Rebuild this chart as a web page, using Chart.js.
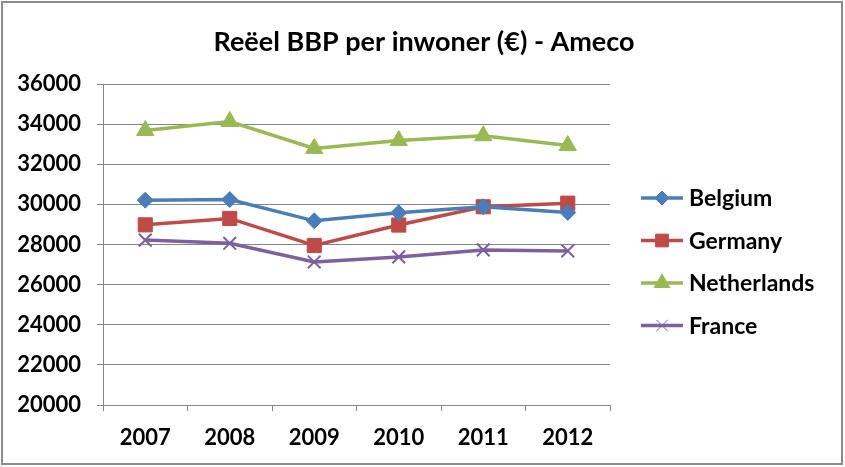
<!DOCTYPE html>
<html>
<head>
<meta charset="utf-8">
<script src="https://cdn.jsdelivr.net/npm/chart.js@4/dist/chart.umd.min.js"></script>
<style>
  html, body { margin: 0; padding: 0; background: #fff; }
  #wrap { width: 845px; height: 467px; }
</style>
</head>
<body>
<div id="wrap"><canvas id="lineChart" width="845" height="467"></canvas></div>
<script>
// chart data
const years = ['2007', '2008', '2009', '2010', '2011', '2012'];
const belgium = [30210, 30240, 29180, 29580, 29880, 29600];
const germany = [28980, 29300, 27950, 28970, 29880, 30060];
const netherlands = [33680, 34130, 32790, 33180, 33420, 32930];
const france = [28220, 28060, 27130, 27380, 27730, 27680];
const yTicks = [20000, 22000, 24000, 26000, 28000, 30000, 32000, 34000, 36000];

const chartTitle = 'Reëel BBP per inwoner (€) - Ameco';
const fontFamily = 'Lato, "Open Sans", sans-serif';
const gridColor = '#868686';

// series styling (Excel 2007 default palette)
const seriesList = [
    { label: 'Belgium', data: belgium, color: '#4A7EBB', marker: 'rectRot', radius: 8 },
    { label: 'Germany', data: germany, color: '#BE4B48', marker: 'rect', radius: 10 },
    { label: 'Netherlands', data: netherlands, color: '#98B954', marker: 'triangle', radius: 10 },
    { label: 'France', data: france, color: '#7D60A0', marker: 'crossRot', radius: 9 }
];

/**
 * Draws white background, outer frame, title and the Excel-like legend
 */
const framePlugin = {
    id: 'frame',
    beforeDraw(chart) {
        const ctx = chart.ctx;
        ctx.save();
        ctx.fillStyle = '#fff';
        ctx.fillRect(0, 0, chart.width, chart.height);
        ctx.strokeStyle = '#8c8c8c';
        ctx.lineWidth = 2;
        ctx.strokeRect(2, 2, chart.width - 5, chart.height - 5);
        ctx.restore();
    },
    afterDraw(chart) {
        const ctx = chart.ctx;
        ctx.save();
        // title
        ctx.fillStyle = '#000';
        ctx.font = 'bold 27px ' + fontFamily;
        ctx.textAlign = 'center';
        ctx.textBaseline = 'middle';
        ctx.fillText(chartTitle, 424, 42);

        // legend: line + marker + label
        ctx.textAlign = 'left';
        ctx.font = 'bold 23px ' + fontFamily;
        chart.data.datasets.forEach((ds, i) => {
            const y = 198 + i * 42.5;
            ctx.strokeStyle = ds.borderColor;
            ctx.lineWidth = 3.5;
            ctx.beginPath();
            ctx.moveTo(641, y);
            ctx.lineTo(683, y);
            ctx.stroke();
            ctx.fillStyle = ds.borderColor;
            ctx.strokeStyle = ds.borderColor;
            ctx.lineWidth = 1;
            Chart.helpers.drawPoint(ctx, {
                pointStyle: ds.pointStyle,
                radius: ds.pointRadius - 1,
                borderWidth: 1
            }, 662, y);
            ctx.fillStyle = '#000';
            ctx.fillText(ds.label, 689, y + 1);
        });
        ctx.restore();
    }
};

function buildDatasets() {
    return seriesList.map(s => ({
        label: s.label,
        data: s.data,
        borderColor: s.color,
        backgroundColor: s.color,
        borderWidth: 3.5,
        tension: 0,
        pointStyle: s.marker,
        pointRadius: s.radius,
        pointHoverRadius: s.radius,
        pointBackgroundColor: s.color,
        pointBorderColor: s.color,
        pointBorderWidth: s.marker === 'crossRot' ? 2 : 1
    }));
}

const ctx = document.getElementById('lineChart');
new Chart(ctx, {
    type: 'line',
    data: {
        labels: years,
        datasets: buildDatasets()
    },
    options: {
        responsive: false,
        animation: false,
        events: [],
        layout: {
            padding: { left: 0, right: 235, top: 84, bottom: 0 }
        },
        plugins: {
            legend: { display: false },
            title: { display: false },
            tooltip: { enabled: false }
        },
        scales: {
            x: {
                offset: true,
                grid: {
                    offset: true,
                    drawOnChartArea: false,
                    drawTicks: true,
                    tickLength: 6,
                    color: gridColor
                },
                border: { display: true, color: gridColor, width: 1 },
                ticks: {
                    color: '#000',
                    padding: 14,
                    font: { family: fontFamily, size: 22, weight: 'bold' }
                },
                afterFit(scale) { scale.height = 62; }
            },
            y: {
                min: yTicks[0],
                max: yTicks[yTicks.length - 1],
                afterBuildTicks(scale) {
                    scale.ticks = yTicks.map(v => ({ value: v }));
                },
                grid: {
                    color: gridColor,
                    drawTicks: true,
                    tickLength: 6
                },
                border: { display: true, color: gridColor, width: 1 },
                ticks: {
                    color: '#000',
                    padding: 16,
                    font: { family: fontFamily, size: 22, weight: 'bold' },
                    callback: v => String(v)
                },
                afterFit(scale) { scale.width = 103; }
            }
        }
    },
    plugins: [framePlugin]
});
</script>
</body>
</html>
